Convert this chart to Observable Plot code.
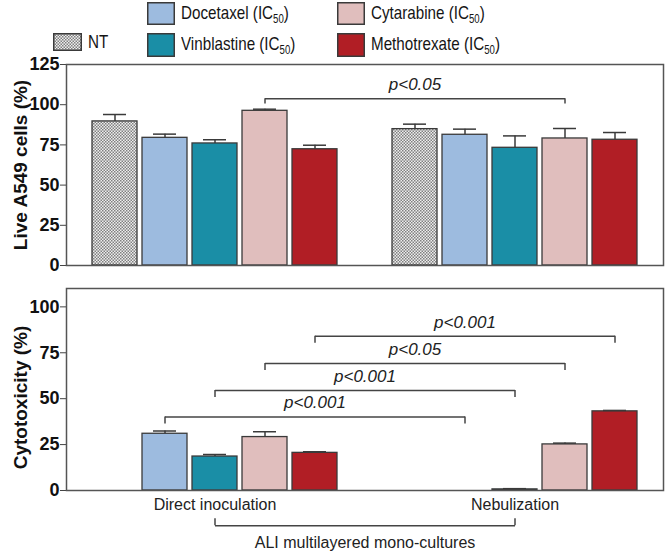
<!DOCTYPE html>
<html><head><meta charset="utf-8">
<script src="https://cdn.jsdelivr.net/npm/d3@7"></script>
<script src="https://cdn.jsdelivr.net/npm/@observablehq/plot@0.6"></script>
<style>
body{margin:0;background:#fff;font-family:"Liberation Sans",Arial,sans-serif;}
#wrap{position:relative;width:666px;height:552px;overflow:hidden;background:#fff}
.panel{position:absolute;left:0;}
.leg{position:absolute;display:flex;align-items:center;color:#151515;white-space:nowrap;z-index:2}
.leg span{font-size:19px;display:inline-block;transform:scaleX(0.8);transform-origin:left center}
.leg sub{font-size:12px;vertical-align:-4px}
.sw{margin-right:6px;flex:none}
</style></head><body>
<svg width="0" height="0" style="position:absolute"><defs>
<pattern id="dots" width="3" height="3" patternUnits="userSpaceOnUse">
<rect width="3" height="3" fill="#eeeeee"/><rect width="1.5" height="1.5" fill="#808080"/><rect x="1.5" y="1.5" width="1.5" height="1.5" fill="#808080"/>
</pattern></defs></svg>
<div id="wrap"><div id="top" class="panel" style="top:0"></div><div id="bot" class="panel" style="top:280px"></div></div>
<script>
// ---- data ----
const groups = ["Direct inoculation", "Nebulization"];
const treatments = ["NT", "Docetaxel", "Vinblastine", "Cytarabine", "Methotrexate"];
const legendNames = ["NT", "Docetaxel (IC<sub>50</sub>)", "Vinblastine (IC<sub>50</sub>)", "Cytarabine (IC<sub>50</sub>)", "Methotrexate (IC<sub>50</sub>)"];
const colors = ["url(#dots)", "#9dbbdf", "#1a8ea6", "#e0bebd", "#b11e25"];

const liveDirect   = [89.6, 79.4, 75.9, 96.2, 72.3];
const liveDirectSD = [4.3, 2.3, 2.3, 1.0, 2.5];
const liveNeb      = [84.8, 81.3, 73.2, 79.0, 78.2];
const liveNebSD    = [3.1, 3.5, 7.4, 6.2, 4.5];

const cytoDirect   = [null, 30.9, 18.5, 29.1, 20.5];
const cytoDirectSD = [null, 1.5, 1.1, 2.9, 0.6];
const cytoNeb      = [null, null, 0.6, 25.1, 43.1];
const cytoNebSD    = [null, null, 0.4, 0.7, 0.5];

const liveTicks = [0, 25, 50, 75, 100, 125];
const cytoTicks = [0, 25, 50, 75, 100];
const liveLabel = "Live A549 cells (%)";
const cytoLabel = "Cytotoxicity (%)";

// significance brackets: treatment compared between the two deliveries
const liveBrackets = [{treatment: "Cytarabine", level: 103.7, drop: 3.3, label: "p<0.05"}];
const cytoBrackets = [
  {treatment: "Docetaxel", level: 40.0, drop: 3.8, label: "p<0.001"},
  {treatment: "Vinblastine", level: 54.5, drop: 3.8, label: "p<0.001"},
  {treatment: "Cytarabine", level: 69.1, drop: 3.8, label: "p<0.05"},
  {treatment: "Methotrexate", level: 84.0, drop: 3.8, label: "p<0.001"}
];
const aliBracket = [{treatment: "Vinblastine", level: -19.2, drop: -3.8, label: "ALI multilayered mono-cultures"}];

// ---- helpers ----
const FONT = "'Liberation Sans', Arial, sans-serif";
const key = (g, t) => g + "|" + t;
const xDomain = [...treatments.map(t => key(groups[0], t)), "gap", ...treatments.map(t => key(groups[1], t))];
const midKey = (a, b) => xDomain[(xDomain.indexOf(a) + xDomain.indexOf(b)) / 2];

function rows(a, aSD, b, bSD) {
  const out = [];
  [[a, aSD], [b, bSD]].forEach(([m, s], gi) => m.forEach((v, i) => {
    if (v != null) out.push({key: key(groups[gi], treatments[i]), treatment: treatments[i], mean: v, top: v + s[i]});
  }));
  return out;
}
function bracketMarks(br) {
  const ends = br.flatMap(b => groups.map(g => ({x: key(g, b.treatment), y1: b.level, y2: b.level - b.drop})));
  return [
    Plot.link(br, {x1: b => key(groups[0], b.treatment), x2: b => key(groups[1], b.treatment), y1: "level", y2: "level", stroke: "#444", strokeWidth: 1.5}),
    Plot.ruleX(ends, {x: "x", y1: "y1", y2: "y2", stroke: "#444", strokeWidth: 1.5})
  ];
}
function bracketText(br, dy, opts = {}) {
  return Plot.text(br, {x: b => midKey(key(groups[0], b.treatment), key(groups[1], b.treatment)), y: "level", text: "label", dy,
    fontStyle: "italic", fontWeight: "normal", fontSize: 17, fill: "#222", ...opts});
}
function barMarks(data) {
  return [
    Plot.barY(data, {x: "key", y: "mean", fill: "treatment", stroke: "#3a3a3a", strokeWidth: 1.3}),
    Plot.ruleX(data, {x: "key", y1: "mean", y2: "top", stroke: "#3a3a3a", strokeWidth: 1.5}),
    Plot.tickY(data, {x: "key", y: "top", insetLeft: 11, insetRight: 11, stroke: "#3a3a3a", strokeWidth: 1.5})
  ];
}
function axisMarks(ticks, label, labelDy) {
  return [
    Plot.axisY({ticks, tickSize: 6, tickPadding: 1, fontSize: 18, fontWeight: "bold", fontFamily: FONT, label: null, stroke: "#444", fill: "#111"}),
    Plot.text([label], {frameAnchor: "left", text: d => d, rotate: -90, textAnchor: "middle", dx: -46, dy: labelDy, fontSize: 19, fontWeight: "bold", fontFamily: FONT, fill: "#111"})
  ];
}
const common = {
  width: 666, marginLeft: 66, marginRight: 3,
  style: {fontFamily: FONT, background: "transparent", overflow: "visible"},
  x: {domain: xDomain, axis: null, paddingInner: 0.1, paddingOuter: 0.466},
  color: {domain: treatments, range: colors}
};

const topPlot = Plot.plot({
  ...common, height: 280, marginTop: 64, marginBottom: 15,
  y: {domain: [0, 125]},
  marks: [
    ...axisMarks(liveTicks, liveLabel, 0),
    ...barMarks(rows(liveDirect, liveDirectSD, liveNeb, liveNebSD)),
    ...bracketMarks(liveBrackets),
    bracketText(liveBrackets, -14),
    Plot.frame({stroke: "#555", strokeWidth: 1.5})
  ]
});
document.getElementById("top").appendChild(topPlot);

const botPlot = Plot.plot({
  ...common, height: 272, marginTop: 8, marginBottom: 62,
  y: {domain: [0, 110]},
  marks: [
    ...axisMarks(cytoTicks, cytoLabel, 8),
    ...barMarks(rows(cytoDirect, cytoDirectSD, cytoNeb, cytoNebSD)),
    ...bracketMarks(cytoBrackets),
    bracketText(cytoBrackets, -14),
    Plot.text(groups, {x: g => key(g, "Vinblastine"), frameAnchor: "bottom", text: d => d, dy: 19, fontWeight: "normal", fontSize: 16, fill: "#222"}),
    ...bracketMarks(aliBracket),
    bracketText(aliBracket, 17, {fontStyle: "normal", fontSize: 16}),
    Plot.frame({stroke: "#555", strokeWidth: 1.5})
  ]
});
document.getElementById("bot").appendChild(botPlot);

// ---- legend ----
const legendLayout = [
  {i: 0, left: 53, top: 33, w: 29, h: 18},
  {i: 1, left: 147, top: 2, w: 28, h: 23},
  {i: 2, left: 147, top: 33, w: 28, h: 24},
  {i: 3, left: 337, top: 2, w: 28, h: 23},
  {i: 4, left: 337, top: 33, w: 28, h: 24}
];
const wrap = document.getElementById("wrap");
legendLayout.forEach(L => {
  const d = document.createElement("div");
  d.className = "leg";
  d.style.left = L.left + "px"; d.style.top = L.top + "px"; d.style.height = L.h + "px";
  const sw = document.createElementNS("http://www.w3.org/2000/svg", "svg");
  sw.setAttribute("width", L.w); sw.setAttribute("height", L.h);
  sw.setAttribute("class", "sw");
  sw.innerHTML = `<rect x="0.75" y="0.75" width="${L.w - 1.5}" height="${L.h - 1.5}" fill="${colors[L.i]}" stroke="#3a3a3a" stroke-width="1.5"/>`;
  d.appendChild(sw);
  const t = document.createElement("span");
  t.innerHTML = legendNames[L.i];
  d.appendChild(t);
  wrap.appendChild(d);
});
</script>
</body></html>
